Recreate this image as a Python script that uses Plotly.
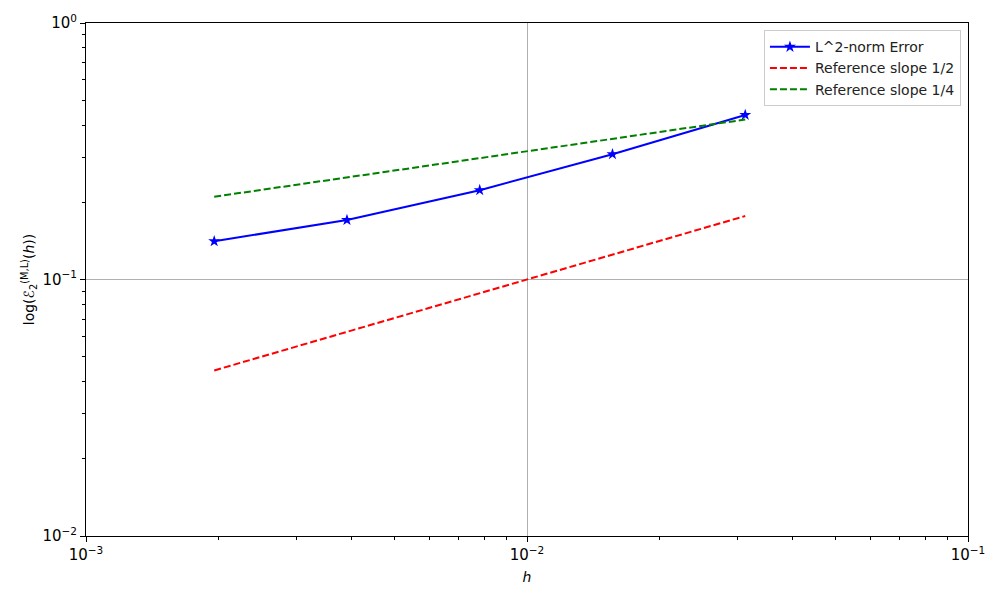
import plotly.graph_objects as go

h = [1/512, 1/256, 1/128, 1/64, 1/32]
err = [0.141, 0.1706, 0.223, 0.308, 0.438]
ref_half = [0.0442, 0.0625, 0.0884, 0.125, 0.1768]
ref_quarter = [0.2102, 0.25, 0.2973, 0.3536, 0.4204]

x_ticks = [1e-3, 1e-2, 1e-1]
x_ticktext = ["10<sup>−3</sup>", "10<sup>−2</sup>", "10<sup>−1</sup>"]
y_ticks = [1e-2, 1e-1, 1]
y_ticktext = ["10<sup>−2</sup>", "10<sup>−1</sup>", "10<sup>0</sup>"]
x_minor = [k * 10 ** e for e in (-3, -2) for k in range(2, 10)]
y_minor = [k * 10 ** e for e in (-2, -1) for k in range(2, 10)]

FONT = "DejaVu Sans"

fig = go.Figure()
fig.add_trace(go.Scatter(x=h, y=err, mode="lines+markers", name="L^2-norm Error",
                         line=dict(color="blue", width=2),
                         marker=dict(symbol="star", size=9, color="blue")))
fig.add_trace(go.Scatter(x=h, y=ref_half, mode="lines", name="Reference slope 1/2",
                         line=dict(color="red", width=2, dash="7px,3px")))
fig.add_trace(go.Scatter(x=h, y=ref_quarter, mode="lines", name="Reference slope 1/4",
                         line=dict(color="green", width=2, dash="7px,3px")))

def axis_common(ticks, text, minor):
    return dict(type="log", showline=True, linecolor="black", linewidth=1, mirror=True,
                ticks="outside", ticklen=5, tickcolor="black", tickwidth=1,
                showgrid=True, gridcolor="#b0b0b0", gridwidth=1,
                zeroline=False, tickmode="array", tickvals=ticks, ticktext=text,
                minor=dict(ticks="outside", ticklen=3, tickcolor="black", tickmode="array",
                           tickvals=minor, showgrid=False),
                tickfont=dict(family=FONT, size=15, color="black"))

fig.update_xaxes(range=[-3, -1],
                 title=dict(text="<i>h</i>", font=dict(family=FONT, size=14, color="black"), standoff=9),
                 **axis_common(x_ticks, x_ticktext, x_minor))
fig.update_yaxes(range=[-2, 0],
                 title=dict(text="log(ℰ<sub>2</sub><sup>(M,L)</sup>(<i>h</i>))", font=dict(family=FONT, size=14, color="black"), standoff=4),
                 **axis_common(y_ticks, y_ticktext, y_minor))

fig.update_layout(width=1000, height=600, margin=dict(l=86, r=32, t=23, b=64),
                  plot_bgcolor="white", paper_bgcolor="white",
                  font=dict(family=FONT, size=13, color="black"),
                  legend=dict(x=0.992, y=0.986, xanchor="right", yanchor="top",
                              bgcolor="rgba(255,255,255,0.8)", bordercolor="#cccccc", borderwidth=1,
                              font=dict(family=FONT, size=14, color="#222222"),
                              itemwidth=40, tracegroupgap=2),
                  showlegend=True)

fig.write_html("out.html", config={"displayModeBar": False},
               post_script="document.body.style.margin='0';")
